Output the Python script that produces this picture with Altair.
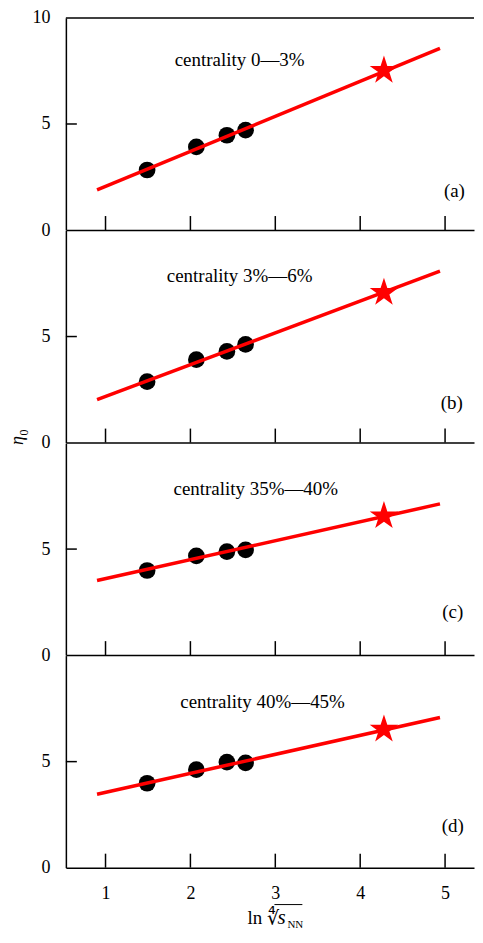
import altair as alt
import pandas as pd

# ---------------- data ----------------
x_points = [1.49, 2.07, 2.43, 2.65]
x_star = [4.28]
x_line = [0.90, 4.94]
x_ticks = [1, 2, 3, 4, 5]

panel_titles = ["centrality 0\u20143%", "centrality 3%\u20146%",
                "centrality 35%\u201440%", "centrality 40%\u201445%"]
panel_tags = ["(a)", "(b)", "(c)", "(d)"]

y_points_a = [2.83, 3.92, 4.47, 4.71]
y_points_b = [2.87, 3.91, 4.30, 4.63]
y_points_c = [3.99, 4.68, 4.88, 4.96]
y_points_d = [3.98, 4.62, 4.98, 4.94]
y_points = [y_points_a, y_points_b, y_points_c, y_points_d]

y_star = [7.52, 7.07, 6.56, 6.52]
y_line = [[1.89, 8.57], [2.02, 8.08], [3.52, 7.13], [3.46, 7.08]]

# annotation anchors (data coordinates)
title_x = [2.58, 2.58, 2.77, 2.85]
title_y = [8.0, 7.86, 7.83, 7.82]
tag_x = [5.11, 5.08, 5.09, 5.09]
tag_y = [1.82, 1.86, 2.05, 1.95]

# ---------------- layout / style ----------------
W = 409
H = 212.5
XMIN, XMAX = 0.533, 0.533 + W / 85.07
FONT = "Liberation Serif"
RED = "#ff0000"
STAR = ("M0,-1L0.2245,-0.309L0.951,-0.309L0.363,0.118L0.588,0.809L0,0.382"
        "L-0.588,0.809L-0.363,0.118L-0.951,-0.309L-0.2245,-0.309Z")

xs = alt.Scale(domain=[XMIN, XMAX], nice=False, zero=False)
ys = alt.Scale(domain=[0, 10], nice=False, zero=False)


def panel(i):
    last = i == 3
    x_axis = alt.Axis(values=x_ticks, labels=last, ticks=False, tickSize=0,
                      grid=False, title=None, labelPadding=17, labelFlush=False,
                      labelFontSize=18)
    y_axis = alt.Axis(values=[0, 5, 10] if i == 0 else [0, 5], ticks=False,
                      tickSize=0, grid=False, title=None, labelPadding=16,
                      labelFlush=False, labelFontSize=18)
    X = alt.X("x:Q", scale=xs, axis=x_axis)
    Y = alt.Y("y:Q", scale=ys, axis=y_axis)

    pts = alt.Chart(pd.DataFrame({"x": x_points, "y": y_points[i]})).mark_circle(
        size=280, color="black", opacity=1).encode(x=X, y=Y)
    line = alt.Chart(pd.DataFrame({"x": x_line, "y": y_line[i]})).mark_line(
        color=RED, strokeWidth=3.5).encode(x=X, y=Y)
    star = alt.Chart(pd.DataFrame({"x": x_star, "y": [y_star[i]]})).mark_point(
        shape=STAR, size=900, filled=True, color=RED, opacity=1).encode(x=X, y=Y)
    xt = alt.Chart(pd.DataFrame({"x": x_ticks})).mark_rule(
        color="black", strokeWidth=1.5).encode(
        x=X, y=alt.value(H), y2=alt.value(H - 14))
    yt = alt.Chart(pd.DataFrame({"y": [5]})).mark_rule(
        color="black", strokeWidth=1.5).encode(
        y=Y, x=alt.value(0), x2=alt.value(11))
    ttl = alt.Chart(pd.DataFrame({"x": [title_x[i]], "y": [title_y[i]],
                                  "t": [panel_titles[i]]})).mark_text(
        font=FONT, fontSize=19, color="black", align="center", baseline="middle"
    ).encode(x=X, y=Y, text="t:N")
    tag = alt.Chart(pd.DataFrame({"x": [tag_x[i]], "y": [tag_y[i]],
                                  "t": [panel_tags[i]]})).mark_text(
        font=FONT, fontSize=19, color="black", align="center", baseline="middle"
    ).encode(x=X, y=Y, text="t:N")

    layers = [pts, line, star, xt, yt, ttl, tag]

    if i == 0:
        top = alt.Chart(pd.DataFrame({"y": [10]})).mark_rule(
            color="black", strokeWidth=1.5).encode(
            y=Y, x=alt.value(0), x2=alt.value(W))
        layers.append(top)

    if i == 1:
        eta = alt.Chart(pd.DataFrame({"t": ["\u03b7"]})).mark_text(
            font=FONT, fontSize=18, fontStyle="italic", color="black",
            angle=270, align="center", baseline="middle").encode(
            x=alt.value(-48), y=alt.value(H - 2), text="t:N")
        sub0 = alt.Chart(pd.DataFrame({"t": ["0"]})).mark_text(
            font=FONT, fontSize=12, color="black",
            angle=270, align="center", baseline="middle").encode(
            x=alt.value(-42), y=alt.value(H - 10), text="t:N")
        layers += [eta, sub0]

    if last:
        ln = alt.Chart(pd.DataFrame({"t": ["ln \u221c"]})).mark_text(
            font=FONT, fontSize=19, color="black", align="left",
            baseline="alphabetic").encode(
            x=alt.value(182), y=alt.value(H + 56), text="t:N")
        s = alt.Chart(pd.DataFrame({"t": ["s"]})).mark_text(
            font=FONT, fontSize=21, fontStyle="italic", color="black",
            align="left", baseline="alphabetic").encode(
            x=alt.value(212), y=alt.value(H + 56), text="t:N")
        nn = alt.Chart(pd.DataFrame({"t": ["NN"]})).mark_text(
            font=FONT, fontSize=11, color="black", align="left",
            baseline="alphabetic").encode(
            x=alt.value(222), y=alt.value(H + 60), text="t:N")
        bar = alt.Chart(pd.DataFrame({"t": ["bar"]})).mark_rule(
            color="black", strokeWidth=1).encode(
            x=alt.value(209), x2=alt.value(237), y=alt.value(H + 37))
        layers += [ln, s, nn, bar]

    return alt.layer(*layers).properties(width=W, height=H)


chart = alt.vconcat(*[panel(i) for i in range(4)], spacing=0, bounds="flush").properties(
    padding={"left": 1, "top": 0, "right": 0, "bottom": 0}
).configure_view(stroke=None).configure_axis(
    labelFont=FONT, labelColor="black", domainColor="black", domainWidth=1.5
)

chart.save("out.html", embed_options={"renderer": "svg", "actions": False})
